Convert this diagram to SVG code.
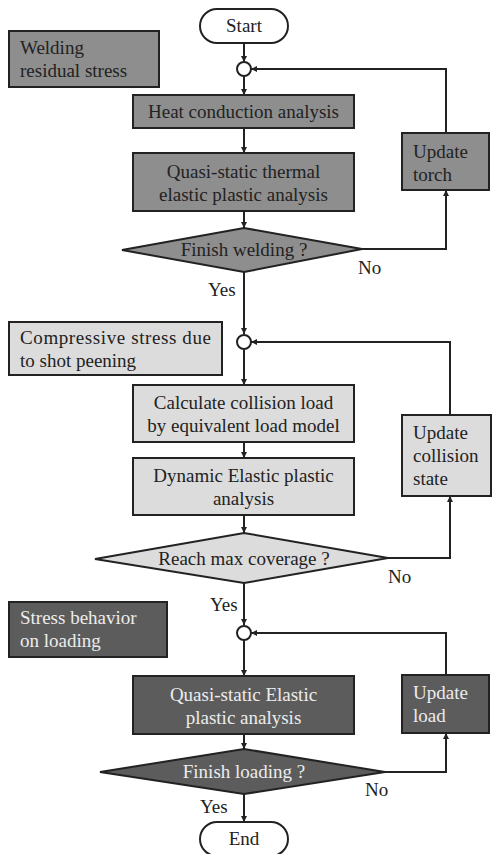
<svg xmlns="http://www.w3.org/2000/svg" width="492" height="854" viewBox="0 0 492 854">
<style>
text{font-family:"Liberation Serif","Tinos","Times New Roman","DejaVu Serif",serif;font-size:19px;fill:#222}
.c{text-anchor:middle}
.w{fill:#ececec}
.b{stroke:#222;stroke-width:2}
.g1{fill:#8e8e8e}
.g2{fill:#dcdcdc}
.g3{fill:#5c5c5c}
.conn{fill:none;stroke:#222;stroke-width:2}
</style>
<defs>
<marker id="ah" viewBox="0 0 10 10" refX="10" refY="5" markerWidth="6" markerHeight="6" orient="auto" markerUnits="userSpaceOnUse">
<path d="M0,0 L10,5 L0,10 z" fill="#222"/>
</marker>
</defs>
<g id="connectors">
<line class="conn" x1="244" y1="43" x2="244" y2="62" marker-end="url(#ah)"/>
<line class="conn" x1="244" y1="76" x2="244" y2="95" marker-end="url(#ah)"/>
<line class="conn" x1="244" y1="128" x2="244" y2="153" marker-end="url(#ah)"/>
<line class="conn" x1="244" y1="211" x2="244" y2="228" marker-end="url(#ah)"/>
<line class="conn" x1="244" y1="272" x2="244" y2="334" marker-end="url(#ah)"/>
<polyline class="conn" points="362,249 446,249 446,190" marker-end="url(#ah)"/>
<polyline class="conn" points="446,133 446,69 251,69" marker-end="url(#ah)"/>
<line class="conn" x1="244" y1="348" x2="244" y2="385" marker-end="url(#ah)"/>
<line class="conn" x1="244" y1="442" x2="244" y2="458" marker-end="url(#ah)"/>
<line class="conn" x1="244" y1="515" x2="244" y2="533" marker-end="url(#ah)"/>
<line class="conn" x1="244" y1="583" x2="244" y2="625" marker-end="url(#ah)"/>
<polyline class="conn" points="388,558 450,558 450,496" marker-end="url(#ah)"/>
<polyline class="conn" points="450,415 450,342 251,342" marker-end="url(#ah)"/>
<line class="conn" x1="244" y1="639" x2="244" y2="676" marker-end="url(#ah)"/>
<line class="conn" x1="244" y1="734" x2="244" y2="749" marker-end="url(#ah)"/>
<line class="conn" x1="244" y1="794" x2="244" y2="822" marker-end="url(#ah)"/>
<polyline class="conn" points="385,772 446,772 446,733" marker-end="url(#ah)"/>
<polyline class="conn" points="446,675 446,633 251,633" marker-end="url(#ah)"/>
</g>
<g id="start"><rect class="b" x="200" y="9" width="88" height="34" rx="17" fill="#fff"/><text class="c" x="244" y="32">Start</text></g>
<g id="label1"><rect class="b g1" x="9" y="31" width="150" height="56"/><text x="20" y="54">Welding</text><text x="20" y="77">residual stress</text></g>
<g id="j1"><circle class="b" cx="244" cy="69" r="7" fill="#fff"/></g>
<g id="heat"><rect class="b g1" x="133" y="95" width="221" height="33"/><text class="c" x="243.5" y="118">Heat conduction analysis</text></g>
<g id="quasi1"><rect class="b g1" x="133" y="153" width="221" height="58"/><text class="c" x="243.5" y="178">Quasi-static thermal</text><text class="c" x="243.5" y="201">elastic plastic analysis</text></g>
<g id="d1"><polygon class="b g1" points="122,250 244,228 362,249 244,272"/><text class="c" x="244" y="256">Finish welding ?</text></g>
<g id="torch"><rect class="b g1" x="402" y="133" width="87" height="57"/><text x="413" y="158">Update</text><text x="413" y="181">torch</text></g>
<text x="358" y="274">No</text>
<text x="208" y="296">Yes</text>
<g id="label2"><rect class="b g2" x="9" y="322" width="213" height="53"/><text x="20" y="344" textLength="191" lengthAdjust="spacing">Compressive stress due</text><text x="20" y="367">to shot peening</text></g>
<g id="j2"><circle class="b" cx="244" cy="342" r="7" fill="#fff"/></g>
<g id="calc"><rect class="b g2" x="133" y="385" width="221" height="57"/><text class="c" x="243.5" y="409">Calculate collision load</text><text class="c" x="243.5" y="432">by equivalent load model</text></g>
<g id="dyn"><rect class="b g2" x="133" y="458" width="221" height="57"/><text class="c" x="243.5" y="482">Dynamic Elastic plastic</text><text class="c" x="243.5" y="505">analysis</text></g>
<g id="d2"><polygon class="b g2" points="95,559 244,533 388,558 244,583"/><text class="c" x="244" y="565">Reach max coverage ?</text></g>
<g id="coll"><rect class="b g2" x="402" y="415" width="89" height="81"/><text x="413" y="439">Update</text><text x="413" y="462">collision</text><text x="413" y="485">state</text></g>
<text x="388" y="583">No</text>
<text x="210" y="611">Yes</text>
<g id="label3"><rect class="b g3" x="9" y="602" width="158" height="55"/><text class="w" x="20" y="624">Stress behavior</text><text class="w" x="20" y="647">on loading</text></g>
<g id="j3"><circle class="b" cx="244" cy="633" r="7" fill="#fff"/></g>
<g id="quasi2"><rect class="b g3" x="133" y="676" width="221" height="58"/><text class="c w" x="243.5" y="701">Quasi-static Elastic</text><text class="c w" x="243.5" y="724">plastic analysis</text></g>
<g id="d3"><polygon class="b g3" points="100,772 244,749 385,772 244,794"/><text class="c w" x="244" y="778">Finish loading ?</text></g>
<g id="load"><rect class="b g3" x="402" y="675" width="87" height="58"/><text class="w" x="413" y="699">Update</text><text class="w" x="413" y="722">load</text></g>
<text x="365" y="796">No</text>
<text x="200" y="813">Yes</text>
<g id="end"><rect class="b" x="200" y="822" width="88" height="34" rx="17" fill="#fff"/><text class="c" x="244" y="845">End</text></g>
</svg>
